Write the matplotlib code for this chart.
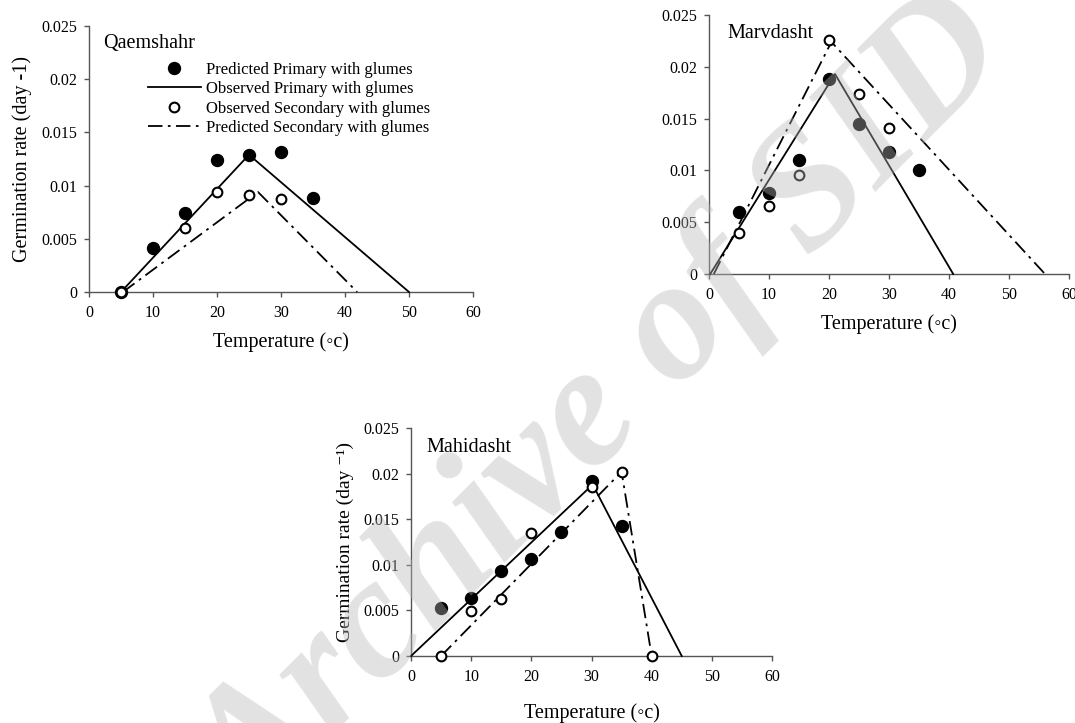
import matplotlib
matplotlib.use("Agg")
import matplotlib.pyplot as plt

plt.rcParams['font.family'] = ['Liberation Serif', 'DejaVu Serif']

# ---------------- data ----------------
# Qaemshahr
q_filled_x = [5, 10, 15, 20, 25, 30, 35]
q_filled_y = [0.0, 0.0041, 0.0074, 0.01245, 0.0129, 0.0132, 0.0088]
q_open_x = [5, 15, 20, 25, 30]
q_open_y = [0.0, 0.0060, 0.0094, 0.0091, 0.0087]
q_solid_x = [5, 25, 50]
q_solid_y = [0.0, 0.0129, 0.0]
q_dash_x = [5.3, 26.4, 41.9]
q_dash_y = [0.0, 0.0094, 0.0]

# Marvdasht
m_filled_x = [5, 10, 15, 20, 25, 30, 35]
m_filled_y = [0.0060, 0.0078, 0.0110, 0.0188, 0.01445, 0.01175, 0.0100]
m_open_x = [5, 10, 15, 20, 25, 30]
m_open_y = [0.0040, 0.0066, 0.0096, 0.02255, 0.0174, 0.0141]
m_solid_x = [0.2, 21.0, 40.7]
m_solid_y = [0.0, 0.0193, 0.0]
m_dash_x = [0.8, 20.4, 56.0]
m_dash_y = [0.0, 0.0224, 0.0]

# Mahidasht
h_filled_x = [5, 10, 15, 20, 25, 30, 35]
h_filled_y = [0.0053, 0.0064, 0.0093, 0.0106, 0.0136, 0.0192, 0.0143]
h_open_x = [5, 10, 15, 20, 30, 35, 40]
h_open_y = [0.0, 0.0049, 0.0062, 0.0135, 0.0185, 0.0202, 0.0]
h_solid_x = [0, 30.2, 45]
h_solid_y = [0.0, 0.0188, 0.0]
h_dash_x = [5, 35, 40]
h_dash_y = [0.0, 0.0202, 0.0]

xticks = [0, 10, 20, 30, 40, 50, 60]
yticks = [0, 0.005, 0.01, 0.015, 0.02, 0.025]
ytick_labels = ["0", "0.005", "0.01", "0.015", "0.02", "0.025"]

legend_labels = ["Predicted Primary with glumes", "Observed Primary with glumes",
                 "Observed Secondary with glumes", "Predicted Secondary with glumes"]

DASH = (0, (8, 3, 1.5, 3))

fig = plt.figure(figsize=(10.75, 7.23), dpi=100)
W, H = 1075.0, 723.0


def make_ax(left, top, right, bottom):
    return fig.add_axes([left / W, 1 - bottom / H, (right - left) / W, (bottom - top) / H])


def style(ax, title, tx, ty):
    ax.set_xlim(0, 60)
    ax.set_ylim(0, 0.025)
    ax.set_xticks(xticks)
    ax.set_xticklabels([str(t) for t in xticks])
    ax.set_yticks(yticks)
    ax.set_yticklabels(ytick_labels)
    for s in ['top', 'right']:
        ax.spines[s].set_visible(False)
    for s in ['left', 'bottom']:
        ax.spines[s].set_color('#555555')
        ax.spines[s].set_linewidth(1.0)
    ax.tick_params(direction='out', length=3.5, width=1.0, color='#555555',
                   labelsize=11.5)
    ax.tick_params(axis='y', pad=5)
    ax.tick_params(axis='x', pad=6)
    ax.patch.set_alpha(0)
    ax.text(tx, ty, title, transform=ax.transAxes, fontsize=14.5, ha='left', va='center')


def draw(ax, fx, fy, ox, oy, sx, sy, dx, dy):
    l1, = ax.plot(fx, fy, 'o', color='black', ms=8.6, clip_on=False, zorder=4)
    l2, = ax.plot(sx, sy, '-', color='black', lw=1.3, clip_on=False, zorder=3)
    l3, = ax.plot(ox, oy, 'o', mfc='white', mec='black', mew=1.5, ms=7.0, clip_on=False, zorder=5)
    l4, = ax.plot(dx, dy, color='black', lw=1.3, linestyle=DASH, clip_on=False, zorder=3)
    return [l1, l2, l3, l4]


# Qaemshahr
ax1 = make_ax(89, 26, 473, 292)
style(ax1, "Qaemshahr", 0.036, 0.935)
h = draw(ax1, q_filled_x, q_filled_y, q_open_x, q_open_y, q_solid_x, q_solid_y, q_dash_x, q_dash_y)
ax1.set_xlabel("Temperature (\u25e6c)", fontsize=14.5, labelpad=8)
ax1.set_ylabel("Germination rate (day -1)", fontsize=14.5, labelpad=7)
ax1.legend(h, legend_labels, loc='upper left', bbox_to_anchor=(0.135, 0.89),
           frameon=False, fontsize=12, handlelength=3.2, handletextpad=0.3,
           labelspacing=0.2, borderaxespad=0)

# Marvdasht
ax2 = make_ax(709, 15, 1069, 274)
style(ax2, "Marvdasht", 0.05, 0.93)
draw(ax2, m_filled_x, m_filled_y, m_open_x, m_open_y, m_solid_x, m_solid_y, m_dash_x, m_dash_y)
ax2.set_xlabel("Temperature (\u25e6c)", fontsize=14.5, labelpad=8)

# Mahidasht
ax3 = make_ax(411, 428, 772, 656)
style(ax3, "Mahidasht", 0.044, 0.915)
draw(ax3, h_filled_x, h_filled_y, h_open_x, h_open_y, h_solid_x, h_solid_y, h_dash_x, h_dash_y)
ax3.set_xlabel("Temperature (\u25e6c)", fontsize=14.5, labelpad=13)
ax3.set_ylabel("Germination rate (day \u207b\u00b9)", fontsize=14, labelpad=7)

# watermark
fig.text(0.563, 0.43, "Archive of SID", fontsize=125, fontweight='bold', fontstyle='italic',
         color='#b8b8b8', alpha=0.4, rotation=45, ha='center', va='center', zorder=10,
         family=['Liberation Serif', 'DejaVu Serif'])

fig.savefig("out.png", dpi=100)
